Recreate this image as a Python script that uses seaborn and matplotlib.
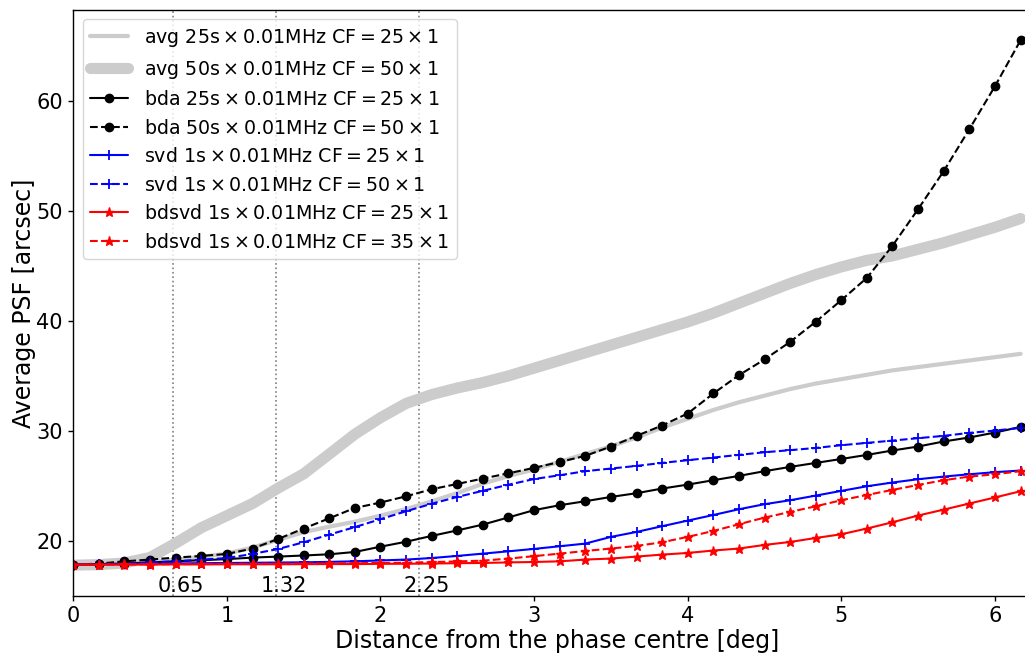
import numpy as np
import pandas as pd
import matplotlib
matplotlib.use("Agg")
import matplotlib.pyplot as plt
import seaborn as sns

# ---- data ----
x_deg = [0.0, 0.167, 0.333, 0.5, 0.667, 0.833, 1.0, 1.167, 1.333, 1.5, 1.667, 1.833,
         2.0, 2.167, 2.333, 2.5, 2.667, 2.833, 3.0, 3.167, 3.333, 3.5, 3.667, 3.833,
         4.0, 4.167, 4.333, 4.5, 4.667, 4.833, 5.0, 5.167, 5.333, 5.5, 5.667, 5.833,
         6.0, 6.167]

avg25 = [17.8, 17.85, 17.95, 18.1, 18.3, 18.55, 18.85, 19.4, 20.1, 20.8, 21.3, 21.75,
         22.3, 22.9, 23.6, 24.35, 25.2, 25.9, 26.5, 27.2, 27.9, 28.6, 29.4, 30.3,
         31.1, 31.9, 32.6, 33.2, 33.8, 34.3, 34.7, 35.1, 35.5, 35.8, 36.1, 36.4,
         36.7, 37.0]
avg50 = [17.8, 17.85, 18.0, 18.5, 19.8, 21.2, 22.3, 23.4, 24.8, 26.1, 27.9, 29.7,
         31.2, 32.5, 33.3, 33.9, 34.4, 35.0, 35.7, 36.4, 37.1, 37.8, 38.5, 39.2,
         39.9, 40.7, 41.6, 42.5, 43.4, 44.2, 44.9, 45.5, 45.9, 46.5, 47.1, 47.8,
         48.5, 49.3]
bda25 = [17.85, 17.9, 17.95, 18.05, 18.15, 18.25, 18.35, 18.49, 18.58, 18.68, 18.79, 19.0,
         19.48, 19.93, 20.46, 20.96, 21.49, 22.14, 22.8, 23.25, 23.61, 24.0, 24.34, 24.76,
         25.12, 25.52, 25.91, 26.34, 26.73, 27.09, 27.45, 27.82, 28.22, 28.58, 29.04, 29.4,
         29.85, 30.36]
bda50 = [17.85, 17.94, 18.15, 18.31, 18.49, 18.64, 18.82, 19.31, 20.18, 21.13, 22.06, 23.0,
         23.49, 24.06, 24.7, 25.18, 25.67, 26.15, 26.64, 27.18, 27.73, 28.58, 29.55, 30.49,
         31.58, 33.4, 35.06, 36.49, 38.09, 39.91, 41.88, 43.91, 46.82, 50.15, 53.61, 57.4,
         61.31, 65.49]
svd25 = [17.85, 17.87, 17.9, 17.93, 17.96, 17.98, 18.0, 18.02, 18.04, 18.06, 18.1, 18.15,
         18.23, 18.31, 18.45, 18.64, 18.85, 19.06, 19.28, 19.52, 19.76, 20.37, 20.82, 21.34,
         21.85, 22.36, 22.88, 23.34, 23.7, 24.12, 24.55, 24.97, 25.31, 25.61, 25.85, 26.06,
         26.25, 26.4]
svd50 = [17.85, 17.88, 17.95, 18.05, 18.15, 18.3, 18.45, 18.82, 19.27, 19.88, 20.58, 21.26,
         21.98, 22.7, 23.38, 24.0, 24.56, 25.11, 25.63, 25.97, 26.34, 26.58, 26.82, 27.09,
         27.34, 27.58, 27.82, 28.06, 28.25, 28.45, 28.7, 28.91, 29.12, 29.34, 29.55, 29.82,
         30.03, 30.27]
bdsvd25 = [17.85, 17.85, 17.86, 17.86, 17.87, 17.87, 17.88, 17.88, 17.88, 17.89, 17.9, 17.9,
           17.92, 17.93, 17.95, 17.98, 18.0, 18.05, 18.09, 18.15, 18.31, 18.4, 18.58, 18.76,
           18.91, 19.13, 19.31, 19.64, 19.91, 20.27, 20.61, 21.13, 21.7, 22.31, 22.85, 23.4,
           23.95, 24.52]
bdsvd35 = [17.85, 17.86, 17.87, 17.88, 17.89, 17.9, 17.91, 17.92, 17.93, 17.94, 17.96, 17.98,
           18.0, 18.03, 18.08, 18.14, 18.21, 18.4, 18.62, 18.85, 19.09, 19.31, 19.55, 19.88,
           20.37, 20.91, 21.52, 22.12, 22.64, 23.15, 23.7, 24.18, 24.64, 25.09, 25.52, 25.85,
           26.06, 26.34]

TS = "\u2009"
labels = [
    "avg 25s" + TS + "×" + TS + r"0.01MHz CF$=25\times1$",
    "avg 50s" + TS + "×" + TS + r"0.01MHz CF$=50\times1$",
    "bda 25s" + TS + "×" + TS + r"0.01MHz CF$=25\times1$",
    "bda 50s" + TS + "×" + TS + r"0.01MHz CF$=50\times1$",
    "svd 1s" + TS + "×" + TS + r"0.01MHz CF$=25\times1$",
    "svd 1s" + TS + "×" + TS + r"0.01MHz CF$=50\times1$",
    "bdsvd 1s" + TS + "×" + TS + r"0.01MHz CF$=25\times1$",
    "bdsvd 1s" + TS + "×" + TS + r"0.01MHz CF$=35\times1$",
]
vlines = [0.65, 1.32, 2.25]
vline_labels = ["0.65", "1.32", "2.25"]
xticks = [0, 1, 2, 3, 4, 5, 6]
yticks = [20, 30, 40, 50, 60]

# ---- plot ----
sns.set_style("ticks")
plt.rcParams["font.family"] = ["DejaVu Sans"]
plt.rcParams["mathtext.fontset"] = "dejavusans"
for k in ["text.color", "axes.labelcolor", "xtick.color", "ytick.color", "axes.edgecolor"]:
    plt.rcParams[k] = "black"

fig = plt.figure(figsize=(10.25, 6.53), dpi=100)
# axes extends slightly past the right edge of the canvas, as in the reference
ax = fig.add_axes([0.0715, 0.0873, 0.9441, 0.8975])

series = [avg25, avg50, bda25, bda50, svd25, svd50, bdsvd25, bdsvd35]
styles = [
    dict(color="#cccccc", linestyle="-", lw=3.0, marker=None),
    dict(color="#cccccc", linestyle="-", lw=8.0, marker=None),
    dict(color="black", linestyle="-", lw=1.5, marker="o", ms=6),
    dict(color="black", linestyle="--", lw=1.5, marker="o", ms=6),
    dict(color="blue", linestyle="-", lw=1.5, marker="+", ms=7),
    dict(color="blue", linestyle="--", lw=1.5, marker="+", ms=7),
    dict(color="red", linestyle="-", lw=1.5, marker="*", ms=6.5),
    dict(color="red", linestyle="--", lw=1.5, marker="*", ms=6.5),
]
for vals, lab, st in zip(series, labels, styles):
    df = pd.DataFrame({"x": x_deg, "y": vals})
    kw = dict(st)
    kw.pop("marker")
    sns.lineplot(data=df, x="x", y="y", ax=ax, label=lab,
                 marker=st["marker"], markeredgewidth=1.3 if st["marker"] == "+" else 1.0,
                 markeredgecolor=st["color"], estimator=None, sort=False, **kw)

for v, t in zip(vlines, vline_labels):
    ax.axvline(v, color="gray", linestyle=":", lw=1.2, zorder=0.5)
    ax.text(v - 0.1, 15.35, t, ha="left", va="baseline", fontsize=15)

ax.set_xlim(0, 6.3)
ax.set_ylim(15, 68.25)
ax.set_xticks(xticks)
ax.set_yticks(yticks)
ax.tick_params(labelsize=15, length=3.5, width=1, pad=4)
ax.set_xlabel("Distance from the phase centre [deg]", fontsize=17, labelpad=2)
ax.set_ylabel("Average PSF [arcsec]", fontsize=17, labelpad=0)
for s in ax.spines.values():
    s.set_color("black")
    s.set_linewidth(1.0)

ax.legend(loc="upper left", fontsize=13.7, framealpha=0.8, handlelength=2.0)

fig.savefig("out.png", dpi=100)
